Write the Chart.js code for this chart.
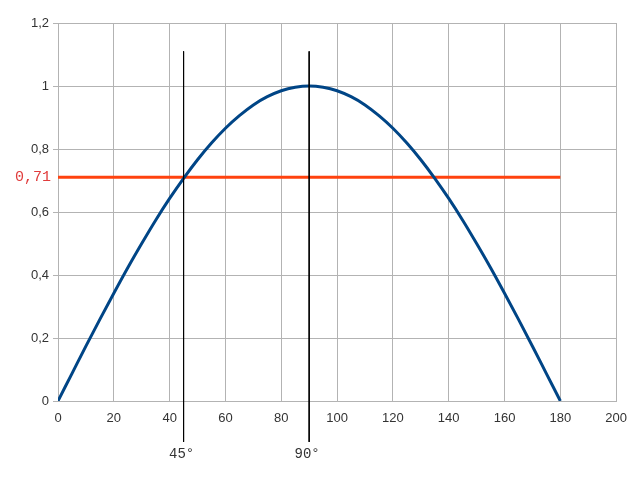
<!DOCTYPE html>
<html>
<head>
<meta charset="utf-8">
<script src="https://cdn.jsdelivr.net/npm/chart.js@4"></script>
<style>body{margin:0;background:#fff}</style>
</head>
<body>
<div style="width:637px;height:479px"><canvas id="myChart"></canvas></div>
<script>
// values
const angles = [0, 5, 10, 15, 20, 25, 30, 35, 40, 45, 50, 55, 60, 65, 70, 75, 80, 85, 90,
  95, 100, 105, 110, 115, 120, 125, 130, 135, 140, 145, 150, 155, 160, 165, 170, 175, 180];
const sineValues = [0, 0.087, 0.174, 0.259, 0.342, 0.423, 0.5, 0.574, 0.643, 0.707, 0.766, 0.819, 0.866, 0.906, 0.94, 0.966, 0.985, 0.996, 1,
  0.996, 0.985, 0.966, 0.94, 0.906, 0.866, 0.819, 0.766, 0.707, 0.643, 0.574, 0.5, 0.423, 0.342, 0.259, 0.174, 0.087, 0];
const levelValue = 0.71;
const levelRange = [0, 180];
const levelLabel = '0,71';
const markerAngles = [45, 90];
const markerLabels = ['45°', '90°'];
const markerRange = [1.11, -0.13];

const grid = '#b3b3b3';

let datasets = [];
datasets.push({
  data: angles.map((a, i) => ({x: a, y: sineValues[i]})),
  borderColor: '#004586',
  borderWidth: 3,
  pointRadius: 0,
  cubicInterpolationMode: 'monotone',
  order: 2,
});
datasets.push({
  data: levelRange.map(a => ({x: a, y: levelValue})),
  borderColor: '#ff420e',
  borderWidth: 3,
  pointRadius: 0,
  order: 3,
});
for (let a of markerAngles) {
  datasets.push({
    data: markerRange.map(v => ({x: a, y: v})),
    borderColor: '#000000',
    borderWidth: 1,
    pointRadius: 0,
    clip: false,
    order: 1,
  });
}

const labelPlugin = {
  id: 'labels',
  afterDatasetsDraw(chart) {
    const {ctx, scales: {x, y}} = chart;
    ctx.save();
    ctx.font = '14px "Liberation Mono"';
    ctx.textBaseline = 'middle';
    ctx.textAlign = 'center';
    ctx.fillStyle = '#333333';
    markerAngles.forEach((a, i) => {
      ctx.fillText(markerLabels[i], x.getPixelForValue(a) - 2, y.getPixelForValue(markerRange[1]) + 12);
    });
    ctx.font = '15px "Liberation Mono"';
    ctx.textAlign = 'right';
    ctx.fillStyle = '#e03c3c';
    ctx.fillText(levelLabel, x.left - 7, y.getPixelForValue(levelValue));
    ctx.restore();
  }
};

new Chart(document.getElementById('myChart'), {
  type: 'line',
  data: {datasets: datasets},
  plugins: [labelPlugin],
  options: {
    responsive: true,
    maintainAspectRatio: false,
    animation: false,
    layout: {padding: {top: 23, right: 20, bottom: 0, left: 0}},
    plugins: {legend: {display: false}, tooltip: {enabled: false}},
    scales: {
      x: {
        type: 'linear',
        min: 0,
        max: 200,
        ticks: {stepSize: 20, color: '#333', font: {family: 'Liberation Sans', size: 13}, padding: 10},
        grid: {color: grid, drawTicks: false},
        border: {color: grid},
        afterFit: scale => { scale.height = 78; },
      },
      y: {
        min: 0,
        max: 1.2,
        ticks: {
          stepSize: 0.2,
          color: '#333',
          font: {family: 'Liberation Sans', size: 13},
          padding: 4,
          callback: v => String(Math.round(v * 10) / 10).replace('.', ','),
        },
        grid: {color: grid, tickLength: 5},
        border: {color: grid},
        afterFit: scale => { scale.width = 58; },
      },
    },
  },
});
</script>
</body>
</html>
